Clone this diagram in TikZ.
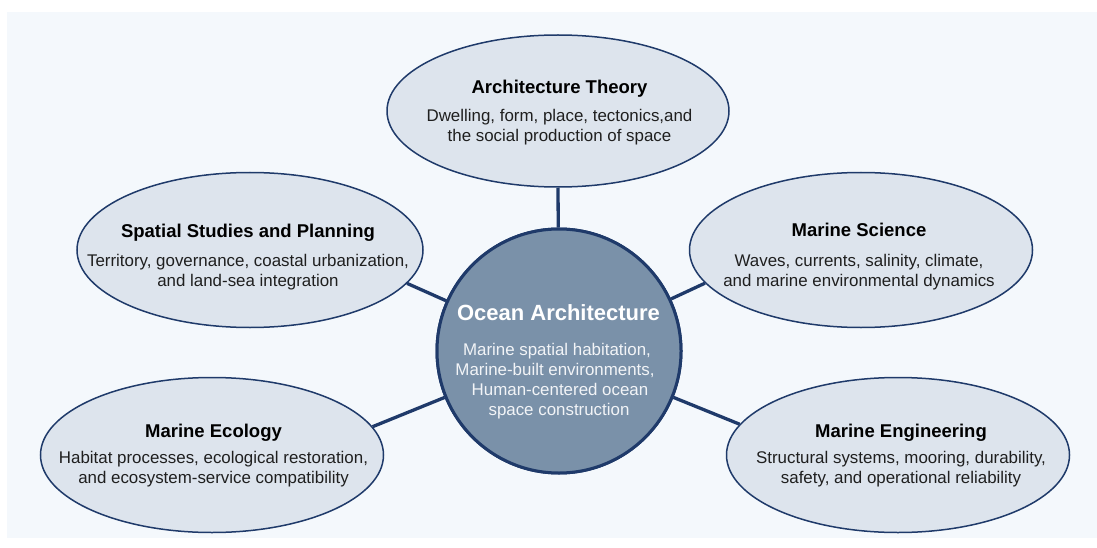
\documentclass[tikz,border=0pt]{standalone}
\usepackage{fontspec}
\setmainfont{Liberation Sans}
\usetikzlibrary{shapes.geometric}
\definecolor{bgc}{HTML}{F4F8FC}
\definecolor{ellfill}{HTML}{DDE4ED}
\definecolor{navy}{HTML}{1F3A6A}
\definecolor{corefill}{HTML}{7A91A9}
\definecolor{coretext}{HTML}{F2F4F7}
\tikzset{
  fieldell/.style={ellipse, draw=navy, line width=1.5pt, fill=ellfill, inner sep=0pt},
  ttltxt/.style={anchor=base, inner sep=0pt, text=black, font=\fontsize{18.5}{22}\selectfont\bfseries},
  bdytxt/.style={anchor=base, inner sep=0pt, text=black!88, font=\fontsize{16.9}{20}\selectfont},
  core/.style={circle, draw=navy, line width=3pt, fill=corefill, inner sep=0pt, minimum size=244pt},
  corettl/.style={anchor=base, inner sep=0pt, text=white, font=\fontsize{22}{26}\selectfont\bfseries},
  corebdy/.style={anchor=base, inner sep=0pt, text=coretext, font=\fontsize{16.9}{20}\selectfont},
  link/.style={draw=navy, line width=3.3pt},
}
\begin{document}
\begin{tikzpicture}[x=1pt,y=-1pt]
\useasboundingbox (0,0) rectangle (1097,548);
\fill[bgc] (7,12) rectangle (1097,538);

% ellipses
\node[fieldell, minimum width=342pt, minimum height=152pt] (at) at (558,111) {};
\node[fieldell, minimum width=346pt, minimum height=155pt] (sp) at (250,250) {};
\node[fieldell, minimum width=343pt, minimum height=155pt] (ms) at (861,250) {};
\node[fieldell, minimum width=343pt, minimum height=155pt] (me) at (212,455) {};
\node[fieldell, minimum width=343pt, minimum height=155pt] (en) at (898,455) {};

% central circle
\node[core] (c) at (559,351) {};

% connectors
\draw[link] (at.south) -- (c);
\draw[link] (sp.348) -- (c);
\draw[link] (ms.192) -- (c);
\draw[link] (me.10) -- (c);
\draw[link] (en.169) -- (c);
\node[core] (c2) at (c) {};

% texts: Architecture Theory
\node[ttltxt] (at1) at (559.5,94) {Architecture Theory};
\node[bdytxt] (at2) at (559.5,122) {Dwelling, form, place, tectonics,and};
\node[bdytxt] (at3) at (559.5,142) {the social production of space};
% Spatial Studies and Planning
\node[ttltxt] (sp1) at (248,237.5) {Spatial Studies and Planning};
\node[bdytxt] (sp2) at (248,266) {Territory, governance, coastal urbanization,};
\node[bdytxt] (sp3) at (248,286) {and land-sea integration};
% Marine Science
\node[ttltxt] (ms1) at (859,236.5) {Marine Science};
\node[bdytxt] (ms2) at (859,266) {Waves, currents, salinity, climate,};
\node[bdytxt] (ms3) at (859,286) {and marine environmental dynamics};
% Marine Ecology
\node[ttltxt] (me1) at (213.5,437) {Marine Ecology};
\node[bdytxt] (me2) at (213.5,463.5) {Habitat processes, ecological restoration,};
\node[bdytxt] (me3) at (213.5,483.5) {and ecosystem-service compatibility};
% Marine Engineering
\node[ttltxt] (en1) at (901,437) {Marine Engineering};
\node[bdytxt] (en2) at (901,463.5) {Structural systems, mooring, durability,};
\node[bdytxt] (en3) at (901,483.5) {safety, and operational reliability};
% Ocean Architecture
\node[corettl] (c1) at (558.5,320) {Ocean Architecture};
\node[corebdy] (cb1) at (557,355) {Marine spatial habitation,};
\node[corebdy] (cb2) at (555,375) {Marine-built environments,};
\node[corebdy] (cb3) at (560,395) {Human-centered ocean};
\node[corebdy] (cb4) at (559,415) {space construction};
\end{tikzpicture}
\end{document}
